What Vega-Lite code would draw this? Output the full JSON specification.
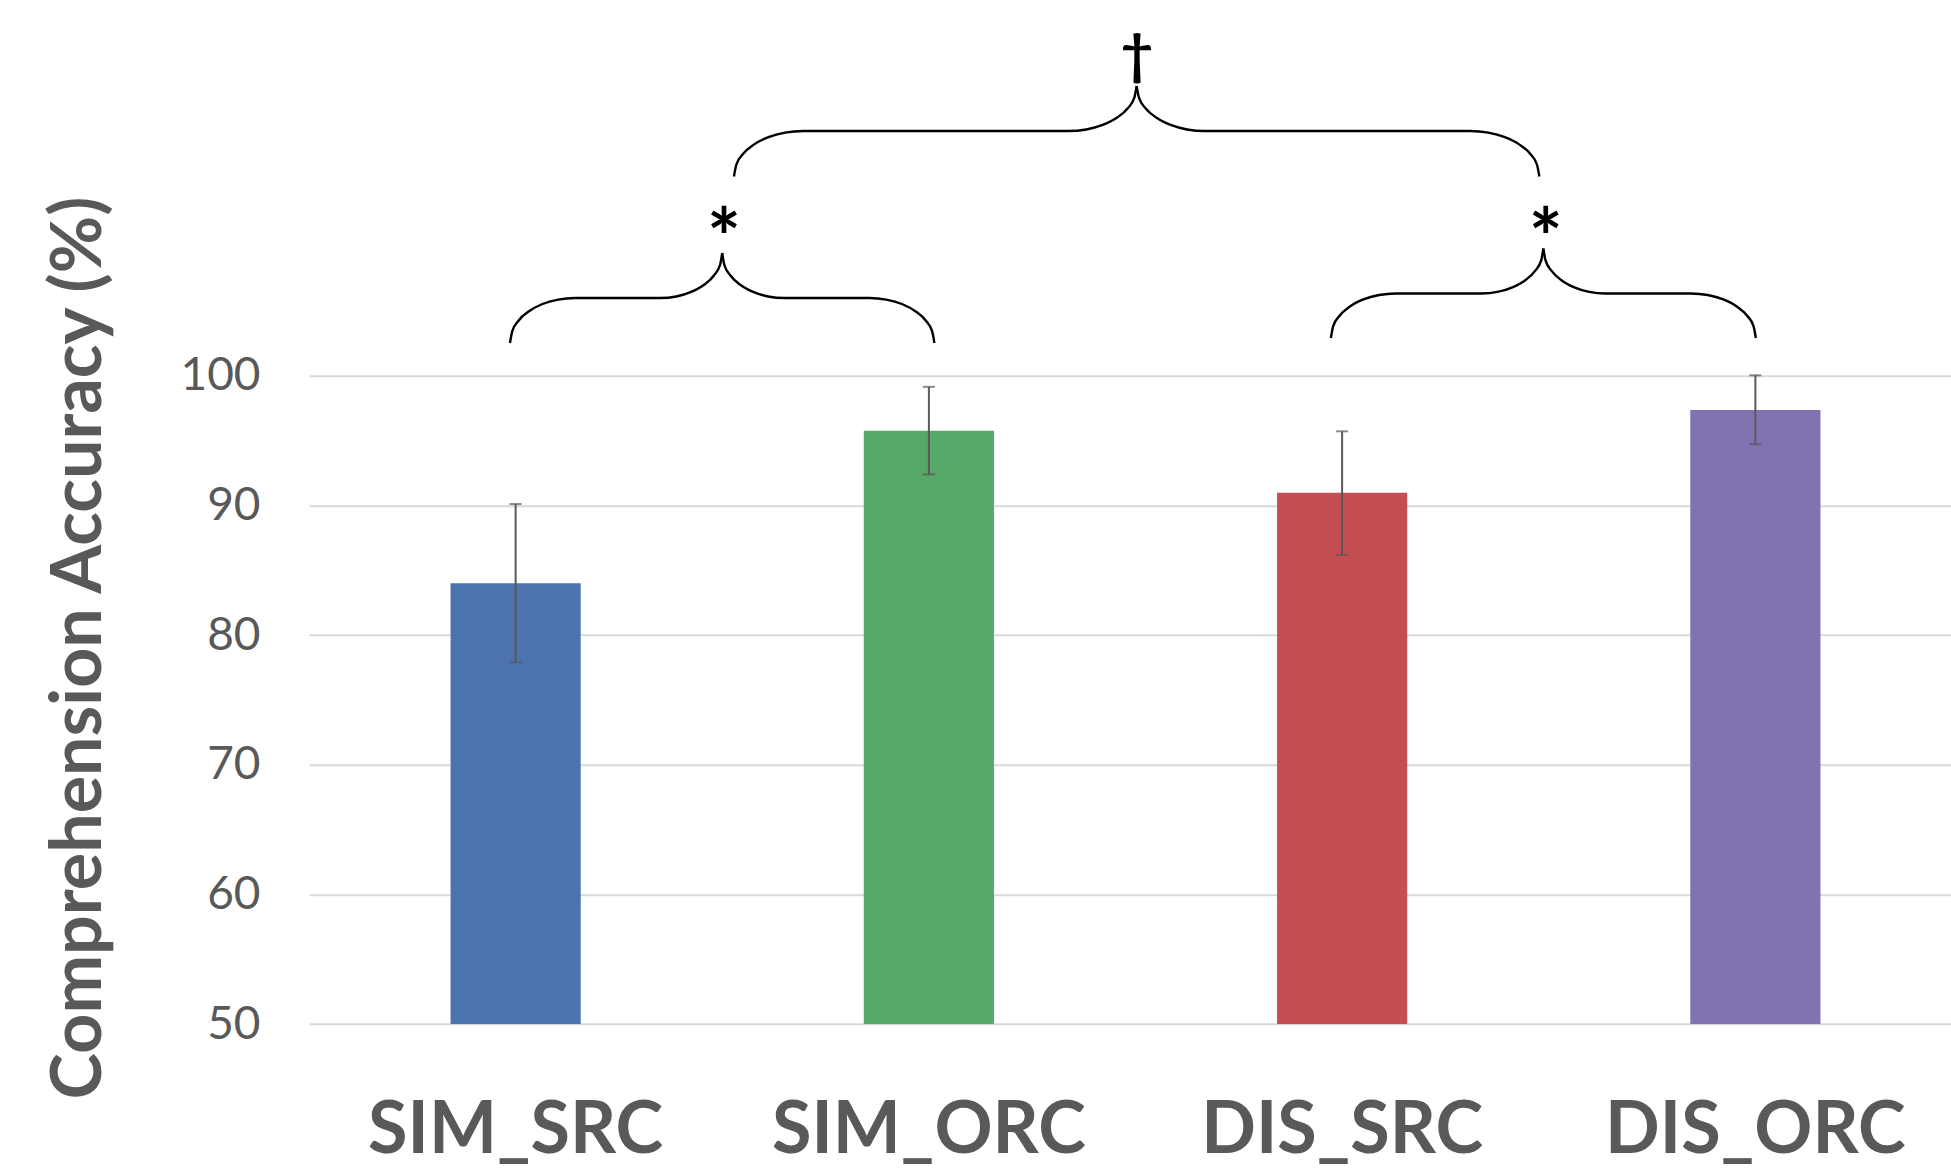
{
  "$schema": "https://vega.github.io/schema/vega-lite/v6.json",
  "width": 1642,
  "height": 648.3,
  "autosize": {"type": "none"},
  "padding": {"left": 309, "top": 375.7, "right": 0, "bottom": 147},
  "background": "white",
  "config": {
    "view": {"stroke": null},
    "axisY": {
      "grid": true, "gridColor": "#d9d9d9", "gridWidth": 2,
      "domain": false, "ticks": false, "tickSize": 0,
      "labelFont": "Lato", "labelFontSize": 46, "labelColor": "#595959", "labelPadding": 49,
      "titleFont": "Lato", "titleFontWeight": "bold", "titleFontSize": 70, "titleColor": "#595959",
      "titleX": -209, "titleY": 271.8, "titleAngle": -90, "titleAlign": "center", "titleBaseline": "alphabetic"
    },
    "axisX": {
      "domain": false, "ticks": false, "tickSize": 0, "grid": false,
      "labelFont": "Lato", "labelFontWeight": "bold", "labelFontSize": 72, "labelColor": "#595959",
      "labelPadding": 71, "labelAngle": 0, "labelLimit": 0, "labelOverlap": false
    }
  },
  "datasets": {
    "bars": [
      {"condition": "SIM_SRC", "accuracy": 84.0, "lo": 77.9, "hi": 90.1},
      {"condition": "SIM_ORC", "accuracy": 95.76, "lo": 92.39, "hi": 99.14},
      {"condition": "DIS_SRC", "accuracy": 90.98, "lo": 86.17, "hi": 95.71},
      {"condition": "DIS_ORC", "accuracy": 97.35, "lo": 94.71, "hi": 100.03}
    ],
    "braces": [
      {"part": "L1", "bx": 0.9863, "by": 102.52},
      {"part": "L1", "bx": 0.9917, "by": 103.42},
      {"part": "L1", "bx": 1.0074, "by": 104.26},
      {"part": "L1", "bx": 1.0324, "by": 104.97},
      {"part": "L1", "bx": 1.0649, "by": 105.53},
      {"part": "L1", "bx": 1.1029, "by": 105.87},
      {"part": "L1", "bx": 1.1436, "by": 105.99},
      {"part": "L1", "bx": 1.3499, "by": 105.99},
      {"part": "L1", "bx": 1.3887, "by": 106.11},
      {"part": "L1", "bx": 1.4249, "by": 106.46},
      {"part": "L1", "bx": 1.4560, "by": 107.01},
      {"part": "L1", "bx": 1.4798, "by": 107.73},
      {"part": "L1", "bx": 1.4948, "by": 108.56},
      {"part": "L1", "bx": 1.4999, "by": 109.46},
      {"part": "L2", "bx": 1.4999, "by": 109.46},
      {"part": "L2", "bx": 1.5049, "by": 108.56},
      {"part": "L2", "bx": 1.5199, "by": 107.73},
      {"part": "L2", "bx": 1.5437, "by": 107.01},
      {"part": "L2", "bx": 1.5748, "by": 106.46},
      {"part": "L2", "bx": 1.6110, "by": 106.11},
      {"part": "L2", "bx": 1.6498, "by": 105.99},
      {"part": "L2", "bx": 1.8561, "by": 105.99},
      {"part": "L2", "bx": 1.8968, "by": 105.87},
      {"part": "L2", "bx": 1.9348, "by": 105.53},
      {"part": "L2", "bx": 1.9673, "by": 104.97},
      {"part": "L2", "bx": 1.9923, "by": 104.26},
      {"part": "L2", "bx": 2.0080, "by": 103.42},
      {"part": "L2", "bx": 2.0134, "by": 102.52},
      {"part": "B1", "bx": 1.5283, "by": 115.36},
      {"part": "B1", "bx": 1.5340, "by": 116.27},
      {"part": "B1", "bx": 1.5507, "by": 117.12},
      {"part": "B1", "bx": 1.5772, "by": 117.84},
      {"part": "B1", "bx": 1.6118, "by": 118.40},
      {"part": "B1", "bx": 1.6520, "by": 118.75},
      {"part": "B1", "bx": 1.6953, "by": 118.87},
      {"part": "B1", "bx": 2.3383, "by": 118.87},
      {"part": "B1", "bx": 2.3809, "by": 118.99},
      {"part": "B1", "bx": 2.4205, "by": 119.34},
      {"part": "B1", "bx": 2.4546, "by": 119.89},
      {"part": "B1", "bx": 2.4808, "by": 120.61},
      {"part": "B1", "bx": 2.4972, "by": 121.44},
      {"part": "B1", "bx": 2.5028, "by": 122.34},
      {"part": "B2", "bx": 2.5028, "by": 122.34},
      {"part": "B2", "bx": 2.5084, "by": 121.44},
      {"part": "B2", "bx": 2.5248, "by": 120.61},
      {"part": "B2", "bx": 2.5510, "by": 119.89},
      {"part": "B2", "bx": 2.5851, "by": 119.34},
      {"part": "B2", "bx": 2.6247, "by": 118.99},
      {"part": "B2", "bx": 2.6673, "by": 118.87},
      {"part": "B2", "bx": 3.3103, "by": 118.87},
      {"part": "B2", "bx": 3.3536, "by": 118.75},
      {"part": "B2", "bx": 3.3938, "by": 118.40},
      {"part": "B2", "bx": 3.4284, "by": 117.84},
      {"part": "B2", "bx": 3.4549, "by": 117.12},
      {"part": "B2", "bx": 3.4716, "by": 116.27},
      {"part": "B2", "bx": 3.4773, "by": 115.36},
      {"part": "R1", "bx": 2.9728, "by": 102.91},
      {"part": "R1", "bx": 2.9782, "by": 103.80},
      {"part": "R1", "bx": 2.9939, "by": 104.63},
      {"part": "R1", "bx": 3.0189, "by": 105.34},
      {"part": "R1", "bx": 3.0514, "by": 105.88},
      {"part": "R1", "bx": 3.0894, "by": 106.22},
      {"part": "R1", "bx": 3.1301, "by": 106.34},
      {"part": "R1", "bx": 3.3370, "by": 106.34},
      {"part": "R1", "bx": 3.3758, "by": 106.46},
      {"part": "R1", "bx": 3.4120, "by": 106.81},
      {"part": "R1", "bx": 3.4431, "by": 107.36},
      {"part": "R1", "bx": 3.4669, "by": 108.08},
      {"part": "R1", "bx": 3.4819, "by": 108.91},
      {"part": "R1", "bx": 3.4870, "by": 109.81},
      {"part": "R2", "bx": 3.4870, "by": 109.81},
      {"part": "R2", "bx": 3.4920, "by": 108.91},
      {"part": "R2", "bx": 3.5070, "by": 108.08},
      {"part": "R2", "bx": 3.5308, "by": 107.36},
      {"part": "R2", "bx": 3.5619, "by": 106.81},
      {"part": "R2", "bx": 3.5981, "by": 106.46},
      {"part": "R2", "bx": 3.6369, "by": 106.34},
      {"part": "R2", "bx": 3.8438, "by": 106.34},
      {"part": "R2", "bx": 3.8845, "by": 106.22},
      {"part": "R2", "bx": 3.9225, "by": 105.88},
      {"part": "R2", "bx": 3.9550, "by": 105.34},
      {"part": "R2", "bx": 3.9800, "by": 104.63},
      {"part": "R2", "bx": 3.9957, "by": 103.80},
      {"part": "R2", "bx": 4.0011, "by": 102.91}
    ],
    "stars": [
      {"symbol": "*", "sx": 1.5041, "sy": 110.23},
      {"symbol": "*", "sx": 3.4930, "sy": 110.23}
    ],
    "dagger": [
      {"symbol": "†", "sx": 2.5034, "sy": 124.58}
    ]
  },
  "layer": [
    {
      "data": {"name": "bars"},
      "encoding": {
        "x": {
          "field": "condition", "type": "nominal", "title": null,
          "sort": ["SIM_SRC", "SIM_ORC", "DIS_SRC", "DIS_ORC"],
          "scale": {"paddingInner": 0.685, "paddingOuter": 0.3425, "range": [0, 1653]}
        }
      },
      "layer": [
        {
          "mark": {"type": "bar"},
          "encoding": {
            "y": {"field": "accuracy", "type": "quantitative", "title": "Comprehension Accuracy (%)",
                  "scale": {"domain": [50, 100], "nice": false, "zero": false},
                  "axis": {"values": [50, 60, 70, 80, 90, 100]}},
            "y2": {"datum": 50},
            "color": {"field": "condition", "type": "nominal", "legend": null,
                      "scale": {"domain": ["SIM_SRC", "SIM_ORC", "DIS_SRC", "DIS_ORC"],
                                "range": ["#4C72B0", "#55A868", "#C44E52", "#8172B2"]}}
          }
        },
        {
          "mark": {"type": "rule", "color": "#595959", "strokeWidth": 2},
          "encoding": {
            "y": {"field": "lo", "type": "quantitative", "title": "Comprehension Accuracy (%)",
                  "scale": {"domain": [50, 100], "nice": false, "zero": false},
                  "axis": {"values": [50, 60, 70, 80, 90, 100]}},
            "y2": {"field": "hi"}
          }
        },
        {
          "mark": {"type": "tick", "color": "#595959", "thickness": 2, "size": 12, "orient": "horizontal"},
          "encoding": {
            "y": {"field": "lo", "type": "quantitative", "title": "Comprehension Accuracy (%)",
                  "scale": {"domain": [50, 100], "nice": false, "zero": false},
                  "axis": {"values": [50, 60, 70, 80, 90, 100]}}
          }
        },
        {
          "mark": {"type": "tick", "color": "#595959", "thickness": 2, "size": 12, "orient": "horizontal"},
          "encoding": {
            "y": {"field": "hi", "type": "quantitative", "title": "Comprehension Accuracy (%)",
                  "scale": {"domain": [50, 100], "nice": false, "zero": false},
                  "axis": {"values": [50, 60, 70, 80, 90, 100]}}
          }
        }
      ]
    },
    {
      "layer": [
        {
          "data": {"name": "braces"},
          "mark": {"type": "line", "interpolate": "monotone", "color": "black", "strokeWidth": 2.4},
          "encoding": {
            "x": {"field": "bx", "type": "quantitative", "axis": null,
                  "scale": {"domain": [0.5, 4.5], "range": [0, 1653], "nice": false, "zero": false}},
            "y": {"field": "by", "type": "quantitative", "title": "Comprehension Accuracy (%)",
                  "scale": {"domain": [50, 100], "nice": false, "zero": false},
                  "axis": {"values": [50, 60, 70, 80, 90, 100]}},
            "detail": {"field": "part"}
          }
        },
        {
          "data": {"name": "stars"},
          "mark": {"type": "text", "font": "Lato", "fontWeight": "bold", "fontSize": 80, "baseline": "middle", "align": "center", "color": "black"},
          "encoding": {
            "x": {"field": "sx", "type": "quantitative", "axis": null,
                  "scale": {"domain": [0.5, 4.5], "range": [0, 1653], "nice": false, "zero": false}},
            "y": {"field": "sy", "type": "quantitative", "title": "Comprehension Accuracy (%)",
                  "scale": {"domain": [50, 100], "nice": false, "zero": false},
                  "axis": {"values": [50, 60, 70, 80, 90, 100]}},
            "text": {"field": "symbol"}
          }
        },
        {
          "data": {"name": "dagger"},
          "mark": {"type": "text", "font": "Lato", "fontWeight": "bold", "fontSize": 56, "baseline": "middle", "align": "center", "color": "black"},
          "encoding": {
            "x": {"field": "sx", "type": "quantitative", "axis": null,
                  "scale": {"domain": [0.5, 4.5], "range": [0, 1653], "nice": false, "zero": false}},
            "y": {"field": "sy", "type": "quantitative", "title": "Comprehension Accuracy (%)",
                  "scale": {"domain": [50, 100], "nice": false, "zero": false},
                  "axis": {"values": [50, 60, 70, 80, 90, 100]}},
            "text": {"field": "symbol"}
          }
        }
      ]
    }
  ],
  "resolve": {"scale": {"x": "independent"}}
}
